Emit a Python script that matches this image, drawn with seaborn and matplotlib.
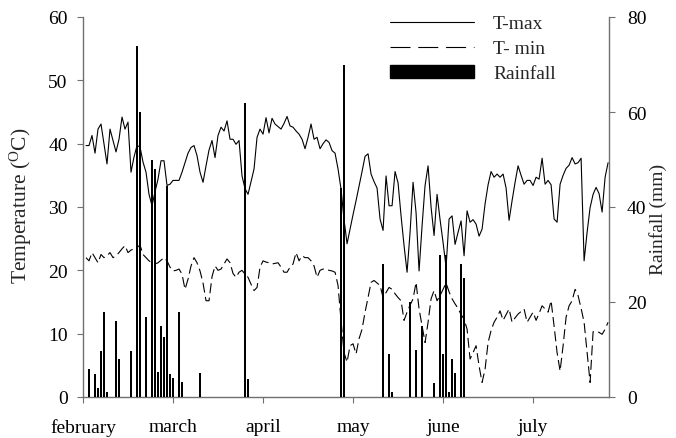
import numpy as np
import pandas as pd
import matplotlib
matplotlib.use('Agg')
import matplotlib.pyplot as plt
import seaborn as sns
from matplotlib.lines import Line2D
from matplotlib.patches import Patch

# ---------------- data ----------------
days = list(range(1, 176))

t_max = [
    39.7, 39.7, 41.3, 38.5, 42.3, 43.1, 40.0, 36.8, 42.3, 40.5,
    38.7, 40.7, 44.2, 42.3, 43.4, 35.5, 37.9, 39.7, 39.5, 37.1,
    35.5, 32.0, 30.2, 32.4, 34.4, 37.3, 37.3, 33.4, 33.6, 34.2,
    34.2, 34.2, 35.5, 37.0, 38.5, 39.4, 39.7, 38.1, 35.5, 33.9,
    36.5, 39.0, 40.5, 37.8, 41.3, 42.6, 42.0, 43.6, 40.7, 40.7,
    39.9, 40.5, 34.9, 32.9, 32.0, 34.0, 36.0, 41.0, 42.3, 41.5,
    44.1, 41.7, 44.0, 43.1, 42.7, 42.3, 43.2, 44.3, 42.8, 42.6,
    42.0, 41.5, 40.7, 39.2, 41.0, 43.1, 40.7, 41.0, 39.2, 40.0,
    40.6, 40.2, 38.9, 38.5, 36.0, 32.8, 28.0, 24.2, 26.5, 28.8,
    31.0, 33.3, 35.6, 38.0, 38.4, 35.2, 34.0, 33.0, 28.1, 26.3,
    34.9, 30.2, 30.2, 35.6, 33.8, 28.6, 23.9, 19.7, 26.0, 33.9,
    29.1, 19.9, 27.0, 33.4, 36.5, 30.0, 25.5, 32.0, 28.0, 24.4,
    20.5, 28.1, 28.6, 24.1, 26.0, 27.8, 22.3, 29.4, 27.6, 28.0,
    27.3, 25.4, 26.5, 30.5, 33.5, 35.6, 34.7, 35.2, 34.7, 35.2,
    33.0, 27.9, 31.0, 33.9, 36.5, 35.0, 33.6, 34.2, 34.2, 33.4,
    34.7, 34.4, 37.7, 33.6, 34.2, 33.5, 28.1, 27.6, 33.6, 35.0,
    36.1, 36.6, 37.8, 36.8, 37.0, 37.7, 21.5, 26.0, 29.9, 32.0,
    33.1, 32.1, 29.2, 34.7, 37.0,
]

t_min = [
    22.0, 21.5, 22.8, 22.0, 21.2, 22.5, 22.0, 22.3, 22.8, 22.0,
    22.3, 22.8, 23.4, 23.9, 22.8, 23.2, 23.4, 23.6, 24.0, 22.5,
    22.0, 21.5, 21.2, 21.0, 21.2, 21.6, 22.0, 21.5, 20.5, 19.9,
    20.0, 20.2, 19.4, 17.0, 18.6, 20.7, 22.0, 21.2, 19.9, 18.0,
    15.2, 15.2, 19.0, 20.7, 20.0, 20.2, 21.0, 21.8, 21.2, 19.5,
    18.9, 19.7, 20.0, 19.4, 18.9, 17.8, 16.8, 17.3, 20.5, 21.5,
    21.3, 21.2, 21.0, 21.1, 21.2, 20.5, 19.7, 19.7, 20.5, 21.0,
    22.8, 21.5, 22.3, 22.0, 22.0, 21.5, 20.7, 18.9, 20.0, 20.2,
    20.2, 20.0, 19.9, 19.7, 17.6, 12.0, 7.0, 5.5, 8.1, 8.4,
    6.8, 9.2, 10.7, 13.4, 15.7, 18.1, 18.4, 18.0, 17.6, 15.7,
    16.5, 17.3, 17.0, 16.3, 15.7, 15.2, 12.1, 13.4, 14.5, 15.5,
    18.1, 13.9, 11.2, 8.6, 11.8, 15.5, 16.8, 15.2, 16.0, 17.0,
    18.0, 16.6, 15.5, 14.7, 14.0, 13.0, 12.3, 10.7, 6.0, 7.0,
    8.1, 4.9, 2.3, 4.4, 8.6, 10.5, 11.8, 12.6, 13.6, 12.1,
    13.0, 13.9, 11.8, 12.5, 13.1, 13.5, 13.9, 11.8, 12.6, 13.4,
    12.1, 13.2, 14.4, 13.9, 13.4, 15.2, 11.2, 7.0, 4.1, 8.1,
    12.6, 14.4, 15.2, 17.0, 16.0, 14.0, 11.8, 7.0, 2.3, 10.3,
    10.4, 10.2, 9.9, 10.7, 11.8,
]

rain_days = [2, 4, 5, 6, 7, 8, 11, 12, 16, 18, 19, 21, 23, 24, 25, 26, 27, 28,
             29, 30, 32, 33, 39, 54, 55, 86, 87, 100, 102, 103, 109, 111, 113,
             117, 119, 120, 121, 122, 123, 124, 126, 127]
rain_mm = [5.9, 4.8, 2.0, 9.7, 18.0, 1.0, 16.0, 7.9, 9.7, 74.0, 60.0, 16.8,
           50.0, 48.0, 5.2, 15.0, 12.6, 44.5, 4.8, 4.0, 18.0, 3.1, 5.0, 62.0,
           3.8, 44.0, 70.0, 28.0, 9.0, 1.0, 20.0, 10.0, 15.0, 3.0, 30.0, 9.0,
           30.0, 1.0, 8.0, 5.0, 28.0, 25.0]

month_ticks = [0, 30, 60, 90, 120, 150]
month_labels = ['february', 'march', 'april', 'may', 'june', 'july']
temp_ticks = [0, 10, 20, 30, 40, 50, 60]
rain_ticks = [0, 20, 40, 60, 80]
legend_labels = ['T-max', 'T- min', 'Rainfall']

# ---------------- style ----------------
sns.set_style('ticks')
plt.rcParams['font.family'] = ['Liberation Serif', 'DejaVu Serif']
plt.rcParams['mathtext.fontset'] = 'custom'
plt.rcParams['mathtext.rm'] = 'Liberation Serif'
plt.rcParams['mathtext.it'] = 'Liberation Serif:italic'

W, H = 676, 439
fig = plt.figure(figsize=(W / 100, H / 100), dpi=100)
L, R, T, B = 83, 609, 18, 398
ax = fig.add_axes([L / W, 1 - B / H, (R - L) / W, (B - T) / H])
ax2 = ax.twinx()

df = pd.DataFrame({'day': days, 'tmax': t_max, 'tmin': t_min})
rain_df = pd.DataFrame({'day': rain_days, 'rain': rain_mm})

sns.lineplot(data=df, x='day', y='tmax', ax=ax, color='black', linewidth=0.8)
sns.lineplot(data=df, x='day', y='tmin', ax=ax, color='black', linewidth=0.8)
ax.lines[-1].set_dashes([9, 4])

sns.barplot(data=rain_df, x='day', y='rain', ax=ax2, native_scale=True,
            color='black', saturation=1, errorbar=None, width=0.85,
            linewidth=0)

ax.set_xlim(0, 175.3)
ax.set_ylim(0, 60)
ax2.set_ylim(0, 80)
ax.set_xticks(month_ticks)
ax.set_xticklabels(month_labels)
ax.set_yticks(temp_ticks)
ax2.set_yticks(rain_ticks)
ax.set_xlabel('')
ax2.set_xlabel('')

spine_c = '#707070'
for a in (ax, ax2):
    a.spines['top'].set_visible(False)
    for s in ('left', 'right', 'bottom'):
        a.spines[s].set_color(spine_c)
        a.spines[s].set_linewidth(1.0)
ax.spines['right'].set_visible(False)
ax2.spines['left'].set_visible(False)
ax2.spines['bottom'].set_visible(False)

ax.tick_params(axis='y', direction='out', length=4, width=0.8,
               color=spine_c, labelsize=14, labelcolor='black', pad=7)
ax.tick_params(axis='x', direction='out', length=4, width=0.8,
               color=spine_c, labelsize=14, labelcolor='black', pad=11)
ax2.tick_params(axis='y', direction='out', length=4, width=0.8,
                color=spine_c, labelsize=14, labelcolor='black', pad=9)

ax.set_ylabel(r'Temperature ($^{\mathrm{O}}$C)', fontsize=15.5)
ax2.set_ylabel('Rainfall (mm)', fontsize=14)
ax.yaxis.set_label_coords(-0.093, 0.505)
ax2.yaxis.set_label_coords(1.076, 0.47)

handles = [
    Line2D([], [], color='black', linewidth=0.8),
    Line2D([], [], color='black', linewidth=0.8, dashes=[18, 7]),
    Patch(facecolor='black', edgecolor='black'),
]
fig.legend(handles, legend_labels, loc='upper left',
           bbox_to_anchor=(390 / W, 1 - 16 / H), frameon=False,
           borderpad=0, borderaxespad=0, handlelength=4.3, handleheight=0.6,
           handletextpad=1.0, labelspacing=0.42, fontsize=14)

fig.savefig('out.png', dpi=100)
